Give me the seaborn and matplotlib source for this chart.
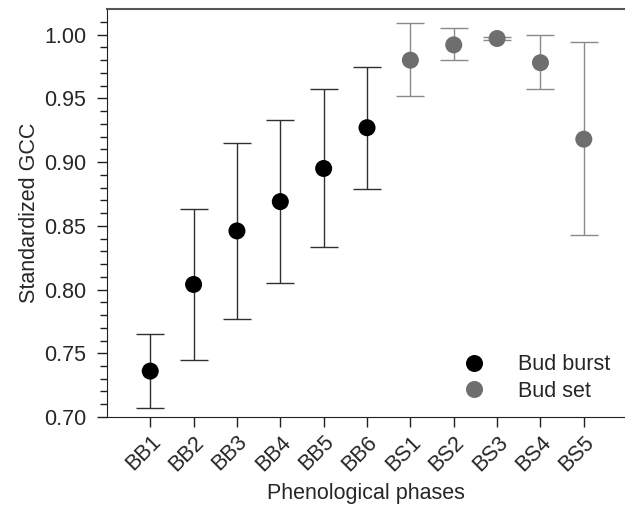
import pandas as pd
import matplotlib.pyplot as plt
import seaborn as sns


phases = ["BB1", "BB2", "BB3", "BB4", "BB5", "BB6", "BS1", "BS2", "BS3", "BS4", "BS5"]
groups = ["Bud burst"] * 6 + ["Bud set"] * 5
gcc_mean = [0.736, 0.804, 0.846, 0.869, 0.895, 0.927, 0.980, 0.992, 0.997, 0.978, 0.918]
gcc_lower = [0.707, 0.745, 0.777, 0.805, 0.833, 0.879, 0.952, 0.980, 0.996, 0.957, 0.843]
gcc_upper = [0.765, 0.863, 0.915, 0.933, 0.957, 0.975, 1.009, 1.005, 0.998, 1.000, 0.994]
y_ticks = [0.70, 0.75, 0.80, 0.85, 0.90, 0.95, 1.00]

palette = {"Bud burst": "#000000", "Bud set": "#6e6e6e"}
err_colors = {"Bud burst": "#303030", "Bud set": "#8a8a8a"}


if __name__ == '__main__':
    sns.set_style("ticks")
    plt.rcParams['font.family'] = ['Liberation Sans', 'DejaVu Sans']

    df = pd.DataFrame({'Phase': phases, 'Group': groups, 'GCC': gcc_mean,
                       'Lower': gcc_lower, 'Upper': gcc_upper})
    df['x'] = range(len(df))

    fig = plt.figure(figsize=(6.25, 5.11), dpi=100)
    ax = fig.add_axes([0.171, 0.184, 0.829, 0.798])

    for grp, sub in df.groupby('Group'):
        ax.errorbar(sub['x'], sub['GCC'],
                    yerr=[sub['GCC'] - sub['Lower'], sub['Upper'] - sub['GCC']],
                    fmt='none', ecolor=err_colors[grp], elinewidth=1.0,
                    capsize=10, capthick=1.0, zorder=1)

    sns.scatterplot(data=df, x='x', y='GCC', hue='Group', palette=palette,
                    s=150, edgecolor='none', ax=ax, zorder=3)

    ax.set_xlim(-1, 10.95)
    ax.set_ylim(0.70, 1.02)
    ax.set_xticks(df['x'])
    ax.set_xticklabels(phases, rotation=45, ha='right', rotation_mode='anchor', fontsize=15.5)
    ax.set_yticks(y_ticks)
    ax.set_yticklabels([f'{v:.2f}' for v in y_ticks], fontsize=15.5)
    ax.set_yticks([0.70 + 0.01 * i for i in range(32)], minor=True)
    ax.tick_params(axis='both', which='major', length=7, width=1, color='#202020')
    ax.tick_params(axis='y', which='major', pad=8)
    ax.tick_params(axis='y', which='minor', length=5, width=1, color='#202020')
    ax.set_xlabel('Phenological phases', fontsize=15.5, labelpad=6)
    ax.set_ylabel('Standardized GCC', fontsize=15.5, labelpad=3)

    ax.spines['right'].set_visible(False)
    ax.spines['top'].set_color('#555555')
    ax.spines['top'].set_linewidth(1.5)
    ax.spines['left'].set_color('#202020')
    ax.spines['bottom'].set_color('#202020')

    ax.legend(loc='lower right', bbox_to_anchor=(1.008, -0.01), frameon=False,
              fontsize=15.5, handletextpad=1.0, labelspacing=0.25, title=None)

    plt.savefig('out.png', dpi=100)
